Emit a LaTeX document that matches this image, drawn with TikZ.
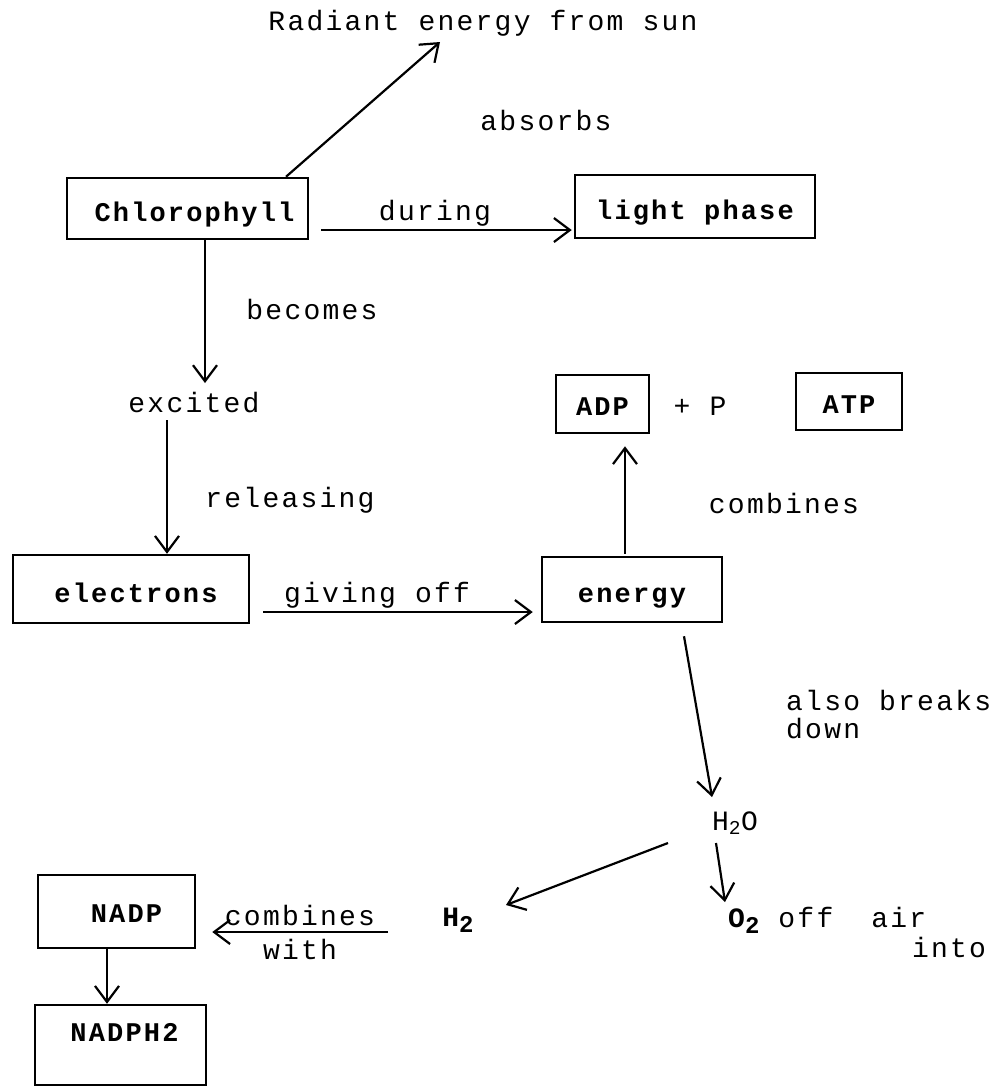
\documentclass[tikz,border=0pt]{standalone}
\usepackage{fontspec}
\newfontfamily\dotfont{Liberation Mono}[LetterSpace=8]
\usetikzlibrary{arrows.meta,calc}
\begin{document}
\begin{tikzpicture}[x=1pt,y=-1pt,
  lbl/.style={font=\dotfont\fontsize{28}{28}\selectfont, inner sep=0pt},
  box/.style={draw, line width=2.5pt, inner sep=0pt, text height=26pt, text depth=0pt, font=\dotfont\bfseries\fontsize{27}{30}\selectfont},
  arr/.style={line width=2.2pt, -{Straight Barb[length=16pt,width=24pt,line width=2.2pt]}}]
\useasboundingbox[fill=white] (0,0) rectangle (1002,1088);
% labels
\node[lbl] (rad) at (483,23) {Radiant energy from sun};
\node[lbl] (abs) at (546,120) {absorbs};
\node[lbl] (dur) at (435,213) {during};
\node[lbl] (bec) at (312,309) {becomes};
\node[lbl] (exc) at (194,403) {excited};
\node[lbl] (rel) at (290,500) {releasing};
\node[lbl] (giv) at (377,595) {giving off};
\node[lbl] (plp) at (700,406) {+ P};
\node[lbl] (com) at (784,503) {combines};
\node[lbl, anchor=west] (brk1) at (786,700) {also breaks};
\node[lbl, anchor=west] (brk2) at (786,729) {down};
\node[lbl] (h2o) at (735,823) {H\textsubscript{2}O};
\node[lbl, font=\dotfont\bfseries\fontsize{28}{30}\selectfont] (h2) at (458,920) {H\raisebox{-6pt}{\fontsize{24}{24}\selectfont 2}};
\node[lbl, anchor=west] (o2) at (728,920) {{\bfseries O\raisebox{-6pt}{\fontsize{24}{24}\selectfont 2}} off\ \ air};
\node[lbl] (into) at (949,947) {into};
\node[lbl] (cw1) at (300,915) {combines};
\node[lbl] (cw2) at (300,949) {with};
% boxes
\node[box, minimum width=241pt, minimum height=61pt] (chl) at (187.5,208.5) {\hspace*{14pt}Chlorophyll};
\node[box, minimum width=240pt, minimum height=63pt] (lp) at (695,206.5) {light phase};
\node[box, minimum width=236pt, minimum height=68pt] (ele) at (131,589) {\hspace*{10pt}electrons};
\node[box, minimum width=180pt, minimum height=65pt] (ene) at (632,589.5) {energy};
\node[box, minimum width=93pt, minimum height=58pt, text height=22pt] (adp) at (602.5,404) {ADP};
\node[box, minimum width=106pt, minimum height=57pt, text height=24pt] (atp) at (849,401.5) {ATP};
\node[box, minimum width=157pt, minimum height=73pt, text height=21pt] (nadp) at (116.5,911.5) {\hspace*{20pt}NADP};
\node[box, minimum width=171pt, minimum height=80pt, text height=8pt, text depth=16pt] (nadph) at (120.5,1045) {\hspace*{8pt}NADPH2};
% connectors
\draw[arr] ($(chl.north)+(98.5,0)$) -- ($(rad.center)+(-43,19)$);
\draw[arr] ($(chl.east)+(12,21.5)$) coordinate (d0) -- ($(d0 -| lp.west)+(-2,0)$);
\draw[arr] ($(chl.south)+(17.5,0)$) coordinate (c0) -- (c0 |- 0,383);
\draw[arr] ($(exc.center)+(-27,17)$) coordinate (e0) -- (e0 |- ele.north);
\draw[arr] ($(ele.east)+(13,23)$) coordinate (g0) -- ($(g0 -| ene.west)+(-8,0)$);
\draw[arr] ($(ene.north)+(-7,-2)$) coordinate (a0) -- ($(a0 |- adp.south)+(0,12)$);
\draw[arr] ($(ene.south)+(52,13)$) -- ($(h2o.center)+(-23,-26)$);
\draw[arr] ($(h2o.center)+(-67,20)$) -- ($(h2.center)+(48,-15)$);
\draw[arr] ($(h2o.center)+(-19,20)$) -- ($(o2.west)+(-3,-18)$);
\draw[arr] ($(h2.center)+(-70,12)$) coordinate (k0) -- ($(k0 -| nadp.east)+(16,0)$);
\draw[arr] ($(nadp.south)+(-9.5,0)$) coordinate (n0) -- (n0 |- nadph.north);
\end{tikzpicture}
\end{document}
